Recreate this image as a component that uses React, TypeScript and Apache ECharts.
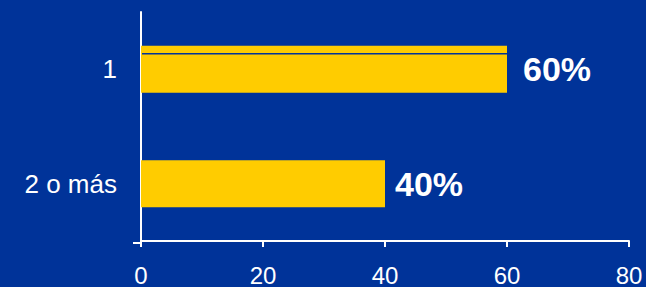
import React, { useEffect, useRef } from "react";
import * as echarts from "echarts";

const categories: string[] = ["1", "2 o más"];
const values: number[] = [60, 40];
const xTicks: number[] = [0, 20, 40, 60, 80];

const BG = "#003399";
const BAR = "#FFCC00";
const FONT = "Liberation Sans, Arial, sans-serif";

export default function App() {
  const ref = useRef<HTMLDivElement>(null);
  useEffect(() => {
    if (!ref.current) return;
    const chart = echarts.init(ref.current, undefined, { renderer: "svg" });
    const option: any = {
      animation: false,
      backgroundColor: BG,
      textStyle: { fontFamily: FONT },
      grid: { left: 141, right: 17, top: 12, bottom: 44, containLabel: false },
      xAxis: {
        type: "value",
        min: xTicks[0],
        max: xTicks[xTicks.length - 1],
        interval: xTicks[1] - xTicks[0],
        axisLine: { show: true, lineStyle: { color: "#ffffff", width: 2 } },
        axisTick: { show: true, length: 6, lineStyle: { color: "#ffffff", width: 2 } },
        axisLabel: { color: "#ffffff", fontSize: 24, margin: 22, fontFamily: FONT },
        splitLine: { show: false },
      },
      yAxis: {
        type: "category",
        data: categories,
        inverse: true,
        axisLine: { show: true, lineStyle: { color: "#ffffff", width: 2 } },
        axisTick: { show: false },
        axisLabel: { color: "#ffffff", fontSize: 26, margin: 24, fontFamily: FONT },
      },
      series: [
        {
          type: "bar",
          data: values.map((v, i) => ({
            value: v,
            label: { distance: i === 0 ? 16 : 10 },
          })),
          barWidth: 47,
          itemStyle: { color: BAR },
          label: {
            show: true,
            position: "right",
            formatter: "{c}%",
            color: "#ffffff",
            fontSize: 34,
            fontWeight: "bold",
            fontFamily: FONT,
          },
        },
        {
          type: "custom",
          data: [[values[0], 0]],
          encode: { x: 0, y: 1 },
          z: 10,
          renderItem: (params: any, api: any) => {
            const v = api.value(0);
            const c = api.value(1);
            const start = api.coord([0, c]);
            const end = api.coord([v, c]);
            const y = start[1] - 47 / 2 + 8;
            return {
              type: "line",
              shape: { x1: start[0] + 1, y1: y, x2: end[0], y2: y },
              style: { stroke: BG, lineWidth: 1.5 },
            };
          },
        },
      ],
      graphic: [
        {
          type: "line",
          shape: { x1: 133, y1: 243, x2: 141, y2: 243 },
          style: { stroke: "#ffffff", lineWidth: 2 },
        },
      ],
    };
    chart.setOption(option);
    return () => chart.dispose();
  }, []);
  return (
    <div
      ref={ref}
      style={{ position: "fixed", left: 0, top: 0, width: 646, height: 287 }}
    />
  );
}
